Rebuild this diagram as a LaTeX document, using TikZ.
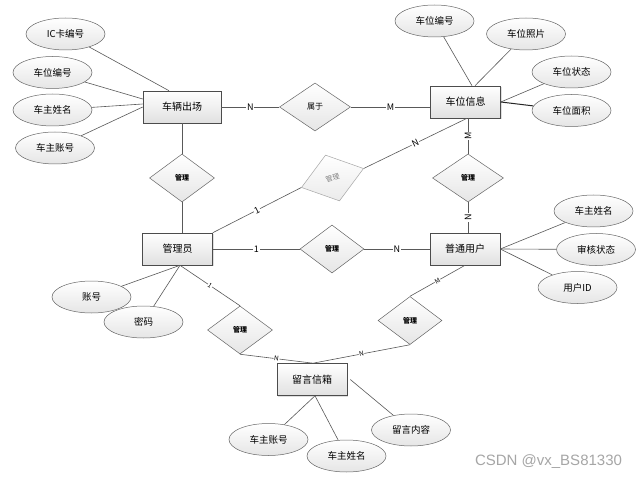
\documentclass[tikz,border=0pt]{standalone}
\usepackage{fontspec}
\setmainfont{Noto Sans CJK SC}
\newfontfamily\wmfont{Liberation Sans}
\usetikzlibrary{shapes.geometric,calc,shadows}
\begin{document}
\begin{tikzpicture}[x=1pt,y=-1pt,
 line/.style={draw=black!65, line width=0.6pt},
 ent/.style={draw=black!70, line width=0.6pt, rectangle, top color=white, bottom color=black!12, minimum width=70pt, minimum height=32pt, inner sep=0pt, font=\fontsize{10}{12}\selectfont, drop shadow={shadow xshift=1pt, shadow yshift=-1pt, opacity=0.25}},
 attr/.style={draw=black!60, line width=0.5pt, ellipse, top color=white, bottom color=black!10, minimum width=79pt, minimum height=32pt, inner sep=0pt, font=\fontsize{9.5}{11}\selectfont},
 rel/.style={draw=black!60, line width=0.5pt, diamond, top color=white, bottom color=black!10, minimum width=65pt, minimum height=48pt, inner sep=0pt, font=\bfseries\fontsize{7}{8}\selectfont},
 lab/.style={fill=white, inner sep=0.8pt, font=\fontsize{9}{10}\selectfont},
 slab/.style={fill=white, inner sep=0.5pt, font=\fontsize{6.5}{7}\selectfont},
]
\useasboundingbox[fill=white] (0,0) rectangle (639,478);

% entities
\node[ent, minimum width=78pt] (cc) at (182,107) {车辆出场};
\node[ent] (cw) at (465.5,102) {车位信息};
\node[ent] (gly) at (177.5,249) {管理员};
\node[ent] (pt) at (465,249) {普通用户};
\node[ent] (ly) at (312,379.5) {留言信箱};

% relationships
\node[rel, font=\fontsize{8}{9}\selectfont, minimum width=71pt] (sy) at (315,107) {属于};
\node[rel] (r1) at (182,178) {管理};
\node[rel, draw=black!35, top color=white, bottom color=black!8, text=black!50, font=\fontsize{7}{8}\selectfont, rotate=17] (r2) at (332.5,178) {管理};
\node[rel, minimum width=71pt] (r3) at (468,178) {管理};
\node[rel, minimum width=64pt] (r4) at (332,249) {管理};
\node[rel] (r5) at (240,330) {管理};
\node[rel, minimum width=64pt] (r6) at (410,320.5) {管理};

% attributes
\node[attr] (a1) at (65.5,34) {IC卡编号};
\node[attr] (a2) at (52.5,72.5) {车位编号};
\node[attr] (a3) at (52.5,110) {车主姓名};
\node[attr] (a4) at (55,148) {车主账号};
\node[attr] (b1) at (434.5,21) {车位编号};
\node[attr] (b2) at (526,34) {车位照片};
\node[attr] (b3) at (571.5,72) {车位状态};
\node[attr] (b4) at (571.5,110.5) {车位面积};
\node[attr] (c1) at (593.5,211) {车主姓名};
\node[attr] (c2) at (596,249.5) {审核状态};
\node[attr] (c3) at (577.5,287.5) {用户ID};
\node[attr] (d1) at (91.5,297) {账号};
\node[attr] (d2) at (143.5,322) {密码};
\node[attr] (e1) at (268.5,439.5) {车主账号};
\node[attr] (e2) at (346.5,456) {车主姓名};
\node[attr] (e3) at (411,430) {留言内容};

% connectors
\draw[line] (a1) -- ($(cc.north)+(-13,0)$);
\draw[line] (a2) -- ($(cc.west)+(0,-8)$);
\draw[line] (a3) -- ($(cc.west)+(0,-3)$);
\draw[line] (a4) -- (cc.west);
\draw[line] (cc) -- node[lab]{N} (sy);
\draw[line] (sy) -- node[lab]{M} ($(cw.west)+(0,5)$);
\draw[line] (cc) -- (r1);
\draw[line] (r1) -- ($(gly.north)+(4.5,0)$);
\draw[line] (gly.north east) -- node[lab, sloped]{1} (r2.west);
\draw[line] (r2.east) -- node[lab, sloped]{N} ($(cw.south)+(1.5,0)$);
\draw[line] (cw.south -| r3) -- node[lab, rotate=90]{M} (r3);
\draw[line] (r3) -- node[lab, rotate=90]{N} (pt.north -| r3);
\draw[line] (gly) -- node[lab]{1} (r4);
\draw[line] (r4) -- node[lab]{N} (pt);
\coordinate (gb) at ($(gly.south)+(2.5,0)$);
\draw[line] (gb) -- (d1);
\draw[line] (gb) -- (d2);
\draw[line] (gb) -- node[slab, sloped]{1} (r5.north);
\coordinate (lt) at ($(ly.north)+(1,0)$);
\draw[line] (r5.south) -- node[slab, sloped]{N} (lt);
\draw[line] (pt.south) -- node[slab, sloped]{M} (r6.north);
\draw[line] (r6.south) -- node[slab, sloped]{N} (lt);
\draw[line] (pt.east) -- (c1);
\draw[line] (pt.east) -- (c2);
\draw[line] (pt.east) -- (c3);
\draw[line] (b1) -- ($(cw.north)+(6.5,0)$);
\draw[line] (b2) -- ($(cw.north)+(9.5,0)$);
\draw[line] (b3) -- (cw.east);
\draw[line, line width=1pt, draw=black!85] (cw.east) -- (b4);
\coordinate (lb) at ($(ly.south)+(3,0)$);
\draw[line] (lb) -- (e1);
\draw[line] (lb) -- (e2);
\draw[line] ($(ly.east)+(3,0)$) -- (e3);

% watermark
\node[font=\wmfont\fontsize{15}{16}\selectfont, text=black!35] (wm) at (548.5,461.5) {CSDN @vx\_BS81330};
\end{tikzpicture}
\end{document}
